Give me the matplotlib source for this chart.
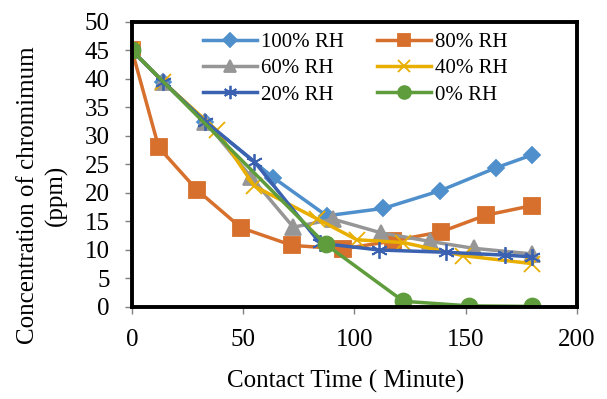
import matplotlib
matplotlib.use("Agg")
import matplotlib.pyplot as plt

# values
t_100 = [0, 14, 33, 63.5, 87.5, 113, 138.5, 163.5, 180]
c_100 = [45, 39.5, 32.5, 22.7, 16.0, 17.3, 20.4, 24.4, 26.7]

t_80 = [0, 12, 29, 49, 72, 95, 117.5, 139, 159, 180]
c_80 = [45, 28.0, 20.6, 13.9, 10.8, 10.2, 11.6, 13.2, 16.1, 17.8]

t_60 = [0, 14, 33, 53.5, 72.5, 90.5, 112, 134, 153.5, 180]
c_60 = [45, 39.5, 32.5, 22.8, 14.0, 15.4, 13.0, 11.5, 10.3, 9.3]

t_40 = [0, 14, 38, 55, 83, 101, 122, 149, 180]
c_40 = [45, 39.5, 31.0, 21.2, 15.5, 11.8, 11.3, 9.0, 7.6]

t_20 = [0, 14, 33, 55, 84.5, 111, 141, 167.5, 180]
c_20 = [45, 39.5, 32.5, 25.5, 11.2, 10.0, 9.6, 9.1, 8.8]

t_0 = [0, 87, 122, 151.5, 180]
c_0 = [45, 11.0, 1.0, 0.2, 0.1]

series = [
    ("100% RH", t_100, c_100, "#4F8FCB", "D", 8.5),
    ("80% RH", t_80, c_80, "#D6702C", "s", 11),
    ("60% RH", t_60, c_60, "#969696", "^", 11),
    ("40% RH", t_40, c_40, "#E8AE00", "x", 11),
    ("20% RH", t_20, c_20, "#3A62B0", (6, 2, 0), 12),
    ("0% RH", t_0, c_0, "#5E9C3C", "o", 11.5),
]

plt.rcParams["font.family"] = ["Liberation Serif", "DejaVu Serif"]

fig = plt.figure(figsize=(6.07, 3.99), dpi=100)
ax = fig.add_axes([0.2175, 0.2306, 0.733, 0.7143])

lines = {}
for label, t, c, color, marker, ms in series:
    ln, = ax.plot(t, c, color=color, lw=2.5, marker=marker, ms=ms,
                  markeredgewidth=1.3, label=label)
    lines[label] = ln

ax.set_xlim(0, 200)
ax.set_ylim(0, 50)
ax.set_xticks(range(0, 201, 50))
ax.set_yticks(range(0, 51, 5))
ax.tick_params(labelsize=18, direction="out", length=5, color="#808080",
               width=1, pad=11)

for sp in ax.spines.values():
    sp.set_linewidth(2.8)
    sp.set_color("black")

ax.set_xlabel("Contact Time ( Minute)", fontsize=18)
ax.xaxis.set_label_coords(0.479, -0.22)
ax.set_ylabel("Concentration of chromimum\n(ppm)", fontsize=18,
              linespacing=1.3)
ax.yaxis.set_label_coords(-0.145, 0.393)

# legend fills row by row: 100/80, 60/40, 20/0
order = ["100% RH", "60% RH", "20% RH", "80% RH", "40% RH", "0% RH"]
ax.legend([lines[k] for k in order], order, ncol=2, loc="upper left",
          bbox_to_anchor=(0.16, 0.963), frameon=False, fontsize=15,
          handlelength=2.6, handletextpad=0.19, columnspacing=1.55,
          labelspacing=0.32, borderpad=0, borderaxespad=0, markerscale=0.8)

fig.savefig("out.png", dpi=100)
